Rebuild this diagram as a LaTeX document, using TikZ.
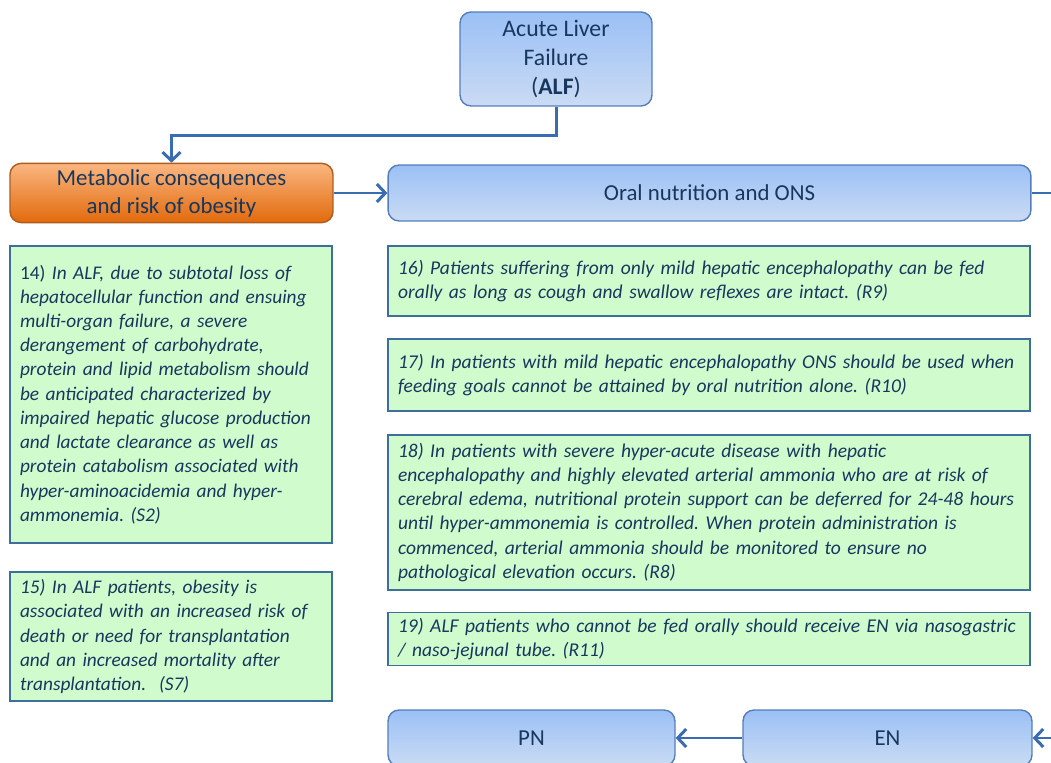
\documentclass[tikz,border=0pt]{standalone}
\usepackage{fontspec}
\setmainfont{Carlito}
\usetikzlibrary{arrows.meta}
\hyphenpenalty=10000
\exhyphenpenalty=10000
\frenchspacing
\definecolor{navytext}{RGB}{23,55,94}
\definecolor{headtop}{RGB}{155,192,245}
\definecolor{headlow}{RGB}{202,219,244}
\definecolor{headedge}{RGB}{84,126,186}
\definecolor{orangetop}{RGB}{250,182,128}
\definecolor{orangelow}{RGB}{226,106,12}
\definecolor{orangeedge}{RGB}{176,92,30}
\definecolor{notegreen}{RGB}{208,251,205}
\definecolor{noteedge}{RGB}{62,110,154}
\definecolor{linkblue}{RGB}{58,108,178}

\begin{document}
\begin{tikzpicture}[x=0.02cm,y=-0.02cm,
  head/.style={rounded corners=0.22cm,draw=headedge,line width=0.8pt,
    top color=headtop,bottom color=headlow,text=navytext,align=center,
    font=\fontsize{13}{15.9}\selectfont},
  orangehead/.style={head,draw=orangeedge,top color=orangetop,bottom color=orangelow},
  note/.style={draw=noteedge,line width=0.8pt,fill=notegreen,text=navytext,
    align=left,inner xsep=0.2cm},
  leftnote/.style={note,text width=6.04cm,minimum width=6.44cm,
    font=\fontsize{11}{13.8}\selectfont\itshape},
  rightnote/.style={note,text width=12.44cm,minimum width=12.84cm,
    font=\fontsize{11.1}{13.7}\selectfont\itshape},
  link/.style={draw=linkblue,line width=1.7pt},
  arr/.style={link,-{Straight Barb[length=0.17cm,width=0.36cm]}}]

\clip (0,0) rectangle (1051,763);
\fill[white] (0,0) rectangle (1051,763);

\node[head,minimum width=3.84cm,minimum height=1.88cm,font=\fontsize{13.5}{16.4}\selectfont] (alf) at (556,59)
  {Acute Liver\\Failure\\(\textbf{ALF})};

\node[orangehead,minimum width=6.46cm,minimum height=1.12cm] (meta) at (171.5,193)
  {Metabolic consequences\\and risk of obesity};
\node[head,minimum width=12.86cm,minimum height=1.12cm] (oral) at (709.5,193)
  {Oral nutrition and ONS};

\node[leftnote,minimum height=5.94cm] (s14) at (171,394.5)
  {\upshape 14) \itshape In ALF, due to subtotal loss of\\
   hepatocellular function and ensuing\\
   multi-organ failure, a severe\\
   derangement of carbohydrate,\\
   protein and lipid metabolism should\\
   be anticipated characterized by\\
   impaired hepatic glucose production\\
   and lactate clearance as well as\\
   protein catabolism associated with\\
   hyper-aminoacidemia and hyper-\\
   ammonemia. (S2)};
\node[leftnote,minimum height=2.58cm] (s15) at (171,636.5)
  {15) In ALF patients, obesity is\\
   associated with an increased risk of\\
   death or need for transplantation\\
   and an increased mortality after\\
   transplantation.~ (S7)};

\node[rightnote,minimum height=1.4cm] (r16) at (709,281)
  {16) Patients suffering from only mild hepatic encephalopathy can be fed\\
   orally as long as cough and swallow reflexes are intact. (R9)};
\node[rightnote,minimum height=1.44cm] (r17) at (709,375)
  {17) In patients with mild hepatic encephalopathy ONS should be used when\\
   feeding goals cannot be attained by oral nutrition alone. (R10)};
\node[rightnote,minimum height=3.1cm] (r18) at (709,512.5)
  {18) In patients with severe hyper-acute disease with hepatic\\
   encephalopathy and highly elevated arterial ammonia who are at risk of\\
   cerebral edema, nutritional protein support can be deferred for 24-48 hours\\
   until hyper-ammonemia is controlled. When protein administration is\\
   commenced, arterial ammonia should be monitored to ensure no\\
   pathological elevation occurs. (R8)};
\node[rightnote,minimum height=1.04cm] (r19) at (709,639)
  {19) ALF patients who cannot be fed orally should receive EN via nasogastric\\
   / naso-jejunal tube. (R11)};

\node[head,minimum width=5.74cm,minimum height=1.12cm] (pn) at (531.5,738) {PN};
\node[head,minimum width=5.78cm,minimum height=1.12cm] (en) at (887.5,738) {EN};

\coordinate (oralout) at (1060,193);
\coordinate (enin) at (1060,738);

\draw[arr] (alf.south) -- ++(0,29) -| (meta.north);
\draw[arr] (meta.east) -- (oral.west);
\draw[link] (oral.east) -- (oralout);
\draw[arr] (enin) -- (en.east);
\draw[arr] (en.west) -- (pn.east);
\end{tikzpicture}
\end{document}
